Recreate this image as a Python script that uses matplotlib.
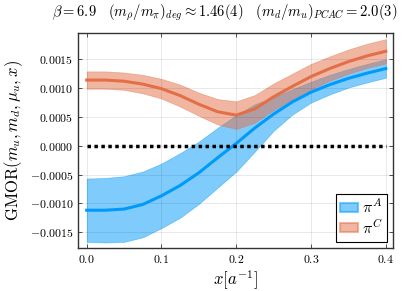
import numpy as np
from matplotlib.backends.backend_agg import FigureCanvasAgg as TelaFigura
from matplotlib.figure import Figure as Figura
from matplotlib.patches import Patch
import matplotlib as mpl

mpl.rcParams['mathtext.fontset'] = 'cm'
mpl.rcParams['font.family'] = 'serif'
mpl.rcParams['font.serif'] = ['DejaVu Serif']

# valores
x = [0.0, 0.025, 0.05, 0.075, 0.1, 0.125, 0.15, 0.175, 0.2,
     0.225, 0.25, 0.275, 0.3, 0.325, 0.35, 0.375, 0.4]

pi_A = [-0.00112, -0.00112, -0.00110, -0.00102, -0.00087, -0.00069, -0.00047, -0.00021, 0.00004,
        0.00031, 0.00055, 0.00076, 0.00093, 0.00106, 0.00117, 0.00126, 0.00134]
err_A = [0.00055, 0.00056, 0.00057, 0.00057, 0.00056, 0.00056, 0.00054, 0.00052, 0.00049,
         0.00041, 0.00029, 0.00022, 0.00018, 0.00017, 0.00016, 0.00016, 0.00016]

pi_C = [0.00114, 0.00114, 0.00112, 0.00107, 0.00099, 0.00087, 0.00072, 0.00059, 0.00053,
        0.00064, 0.00085, 0.00103, 0.00120, 0.00134, 0.00146, 0.00156, 0.00164]
err_C = [0.00015, 0.00015, 0.00015, 0.00016, 0.00017, 0.00019, 0.00020, 0.00022, 0.00024,
         0.00024, 0.00023, 0.00022, 0.00022, 0.00021, 0.00021, 0.00021, 0.00021]

ticks_y = [-0.0015, -0.0010, -0.0005, 0.0, 0.0005, 0.0010, 0.0015]
ticks_x = [0.0, 0.1, 0.2, 0.3, 0.4]

azul = '#009AFA'
naranja = '#E36F47'

fig = Figura(figsize=(4.11, 2.91), dpi=100)
TelaFigura(fig)
eje = fig.add_axes([78 / 411, 1 - 248 / 291, 315 / 411, 215 / 291])

x = np.array(x)
for cen, err, color in [(pi_A, err_A, azul), (pi_C, err_C, naranja)]:
    cen = np.array(cen)
    err = np.array(err)
    eje.fill_between(x, cen - err, cen + err, facecolor=color, alpha=0.5, linewidth=0.5, edgecolor=color)
    eje.plot(x, cen, color=color, lw=2.2)

eje.plot([x[0], x[-1]], [0, 0], color='black', linestyle=(0, (1, 1)), lw=2.5)

eje.set_xlim(-0.0116, 0.4096)
eje.set_ylim(-0.001776, 0.001957)
eje.set_xticks(ticks_x)
eje.set_xticklabels(['$%.1f$' % t for t in ticks_x])
eje.set_yticks(ticks_y)
eje.set_yticklabels(['$%.4f$' % t if t >= 0 else '$-%.4f$' % -t for t in ticks_y])
eje.tick_params(direction='in', length=3, width=0.6, labelsize=8.5, top=True, right=True, color='#333333')
eje.grid(True, color='black', alpha=0.1, lw=0.6)
for s in eje.spines.values():
    s.set_linewidth(1.0)
    s.set_color('#333333')

eje.set_xlabel(r'$x[a^{-1}]$', fontsize=12, labelpad=2)
eje.set_ylabel(r'$\mathrm{GMOR}(m_u,m_d,\mu_u,x)$', fontsize=12, labelpad=3)
fig.text(225 / 411, 1 - 13 / 291,
         r'$\beta = 6.9 \quad (m_\rho/m_\pi)_{deg} \approx 1.46(4) \quad (m_d/m_u)_{PCAC} = 2.0(3)$',
         fontsize=10.5, ha='center', va='center')

manijas = [Patch(facecolor=azul, alpha=0.5, edgecolor=azul, lw=1.5),
           Patch(facecolor=naranja, alpha=0.5, edgecolor=naranja, lw=1.5)]
ley = eje.legend(manijas, [r'$\pi^A$', r'$\pi^C$'], loc='lower right', fontsize=11.5, fancybox=False,
                 framealpha=1, edgecolor='black', handlelength=1.1, handleheight=0.5,
                 handletextpad=0.25, borderpad=0.25, labelspacing=0.15, borderaxespad=0.4)
ley.get_frame().set_linewidth(0.8)

fig.savefig('out.png', dpi=100)
